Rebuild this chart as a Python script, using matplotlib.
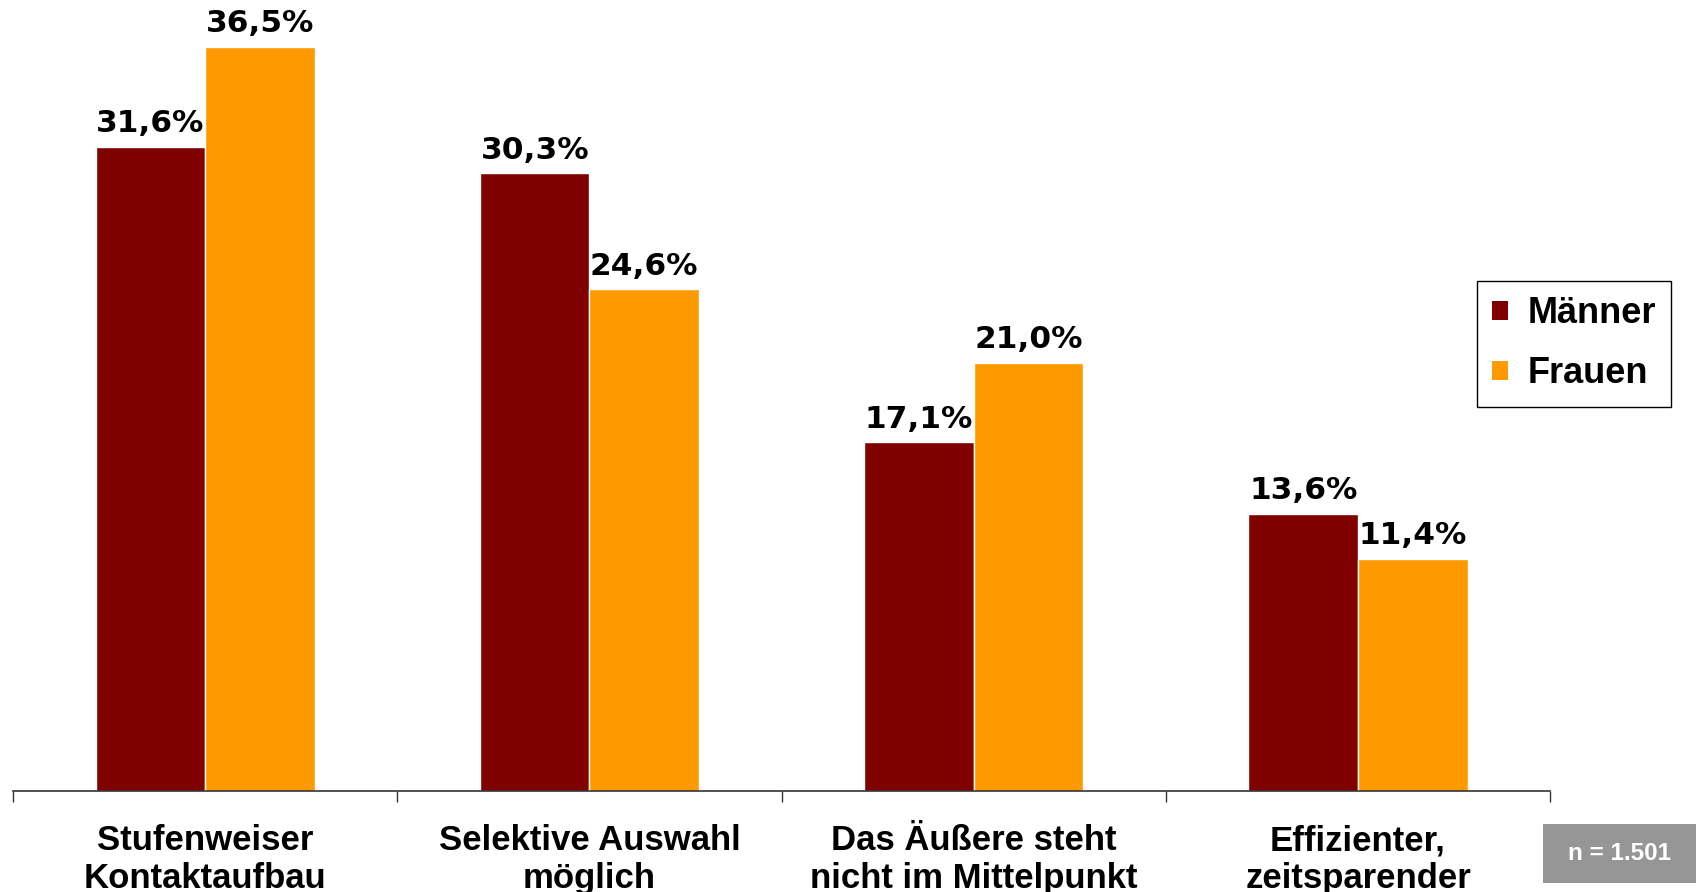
import numpy as np
import matplotlib.pyplot as plt
import matplotlib.patches as patches

# data
categories = ['Stufenweiser\nKontaktaufbau', 'Selektive Auswahl\nmöglich',
              'Das Äußere steht\nnicht im Mittelpunkt', 'Effizienter,\nzeitsparender']
maenner = [31.6, 30.3, 17.1, 13.6]
frauen = [36.5, 24.6, 21.0, 11.4]
series_names = ['Männer', 'Frauen']
n_text = 'n = 1.501'

col_m = '#800000'
col_f = '#FF9900'

fig = plt.figure(figsize=(16.96, 8.92), dpi=100)
ax = fig.add_axes([0.0077, 0.1132, 0.9063, 0.8868])

x = np.arange(len(categories))
w = 0.285
b1 = ax.bar(x - w / 2, maenner, w, color=col_m, edgecolor='white', linewidth=1, label=series_names[0])
b2 = ax.bar(x + w / 2, frauen, w, color=col_f, edgecolor='white', linewidth=1, label=series_names[1])

# value labels above the bars, german decimal comma
for bars, vals in [(b1, maenner), (b2, frauen)]:
    for rect, v in zip(bars, vals):
        ax.annotate(('%.1f%%' % v).replace('.', ','),
                    (rect.get_x() + rect.get_width() / 2, rect.get_height()),
                    xytext=(0, 10.5), textcoords='offset points',
                    ha='center', va='baseline', fontsize=22.5, fontweight='bold',
                    family='DejaVu Sans', color='black')

ax.set_xlim(-0.5, len(categories) - 0.5)
ax.set_ylim(0, 38.8)

for s in ['top', 'right', 'left']:
    ax.spines[s].set_visible(False)
ax.spines['bottom'].set_color('#333333')
ax.spines['bottom'].set_linewidth(1.2)
ax.set_yticks([])

# ticks at category borders, labels in the middle
ax.set_xticks(np.arange(len(categories) + 1) - 0.5)
ax.set_xticklabels([])
ax.tick_params(axis='x', which='major', direction='out', length=8, width=1, color='#333333')
ax.set_xticks(x, minor=True)
ax.set_xticklabels(categories, minor=True, fontsize=25, fontweight='bold',
                   family='Liberation Sans', linespacing=1.19)
ax.tick_params(axis='x', which='minor', length=0, pad=24)

leg = ax.legend(loc='upper left', bbox_to_anchor=(0.871, 0.685),
                bbox_transform=fig.transFigure, borderaxespad=0,
                prop={'family': 'Liberation Sans', 'weight': 'bold', 'size': 26},
                handlelength=0.42, handleheight=0.42, handletextpad=0.55,
                labelspacing=0.7, borderpad=0.42, fancybox=False,
                framealpha=1, edgecolor='black')
leg.get_frame().set_linewidth(1)
for h in leg.legend_handles:
    h.set_edgecolor('none')

# sample size box bottom right
fig.patches.append(patches.Rectangle((1543 / 1696, 9 / 892), 153 / 1696, 59 / 892,
                                     transform=fig.transFigure, facecolor='#969696',
                                     edgecolor='none'))
fig.text((1543 + 153 / 2) / 1696, 38.5 / 892, n_text, ha='center', va='center',
         color='white', fontsize=17.5, fontweight='bold', family='Liberation Sans')

fig.savefig('out.png', dpi=100)
